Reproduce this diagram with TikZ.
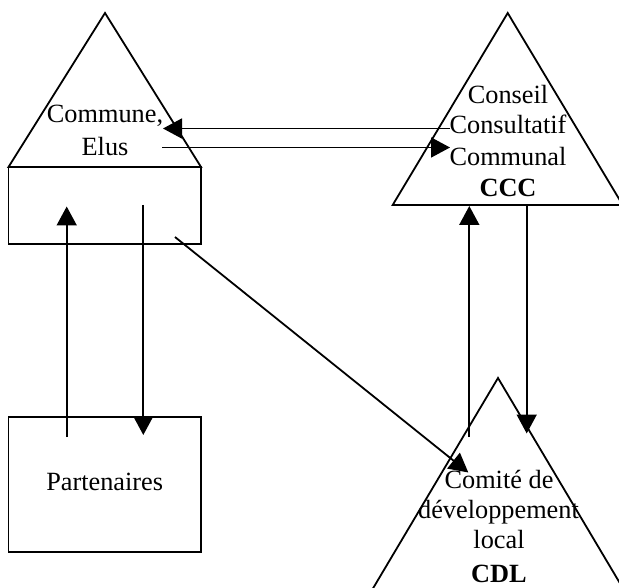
\documentclass[tikz,border=0pt]{standalone}
\usepackage{fontspec}
\setmainfont{Liberation Serif}
\usetikzlibrary{arrows.meta}
\begin{document}
\begin{tikzpicture}[x=1pt,y=-1pt,
  shapeline/.style={line width=1.8pt, line join=miter},
  flow/.style={-{Triangle[length=19pt,width=20pt]}, line width=1.8pt},
  lbl/.style={anchor=base, inner sep=0pt, font=\fontsize{26.3}{31}\selectfont},
  boldlbl/.style={lbl, font=\fontsize{26.3}{31}\selectfont\bfseries}]
\clip (0,0) rectangle (619,588);
\fill[white] (0,0) rectangle (619,588);

% --- Commune, Elus (triangle over a box)
\coordinate (tlA) at (105,13);
\coordinate (tlL) at (8.5,167);
\coordinate (tlR) at (201,167);
\coordinate (tlB) at (201,244);
\draw[shapeline] (tlL) -- (tlA) -- (tlR) -- cycle;
\draw[shapeline] (tlL) rectangle (tlB);
\node[lbl] (commune) at (105,123) {Commune,};
\node[lbl] (elus) at (105,156) {Elus};

% --- Conseil Consultatif Communal (triangle)
\coordinate (trA) at (507.7,13);
\coordinate (trL) at (392.7,205);
\coordinate (trR) at (622.7,205);
\draw[shapeline] (trL) -- (trA) -- (trR) -- cycle;
\node[lbl] (conseil) at (508,104) {Conseil};
\node[lbl] (consult) at (508,133.5) {Consultatif};
\node[lbl] (communal) at (508,166) {Communal};
\node[boldlbl] (ccc) at (508,197) {CCC};

% --- Comite de developpement local (triangle)
\coordinate (brA) at (498,378);
\coordinate (brL) at (366.1,600);
\coordinate (brR) at (629.9,600);
\draw[shapeline] (brL) -- (brA) -- (brR) -- cycle;
\node[lbl] (comite) at (499,488) {Comité de};
\node[lbl] (devel) at (498.5,518) {développement};
\node[lbl] (local) at (499,548) {local};
\node[boldlbl] (cdl) at (499,582) {CDL};

% --- Partenaires (box)
\coordinate (pTL) at (8.5,416.7);
\coordinate (pBR) at (201,551.7);
\draw[shapeline] (pTL) rectangle (pBR);
\node[lbl] (partenaires) at (104.7,490) {Partenaires};

% --- connector end points
\coordinate (a1s) at (450,128.5);
\coordinate (a1e) at (163,128.5);
\coordinate (a2s) at (162,147.5);
\coordinate (a2e) at (450,147.5);
\coordinate (a3s) at (66.7,437);
\coordinate (a3e) at (66.7,206.5);
\coordinate (a4s) at (143.3,205);
\coordinate (a4e) at (143.3,435);
\coordinate (a5s) at (175,237);
\coordinate (a5e) at (468.3,472.5);
\coordinate (a6s) at (469.3,437);
\coordinate (a6e) at (469.3,206);
\coordinate (a7s) at (526.7,206);
\coordinate (a7e) at (526.7,433.5);

\draw[flow] (a1s) -- (a1e);
\draw[flow] (a2s) -- (a2e);
\draw[flow] (a3s) -- (a3e);
\draw[flow] (a4s) -- (a4e);
\draw[flow] (a5s) -- (a5e);
\draw[flow] (a6s) -- (a6e);
\draw[flow] (a7s) -- (a7e);
\end{tikzpicture}
\end{document}
